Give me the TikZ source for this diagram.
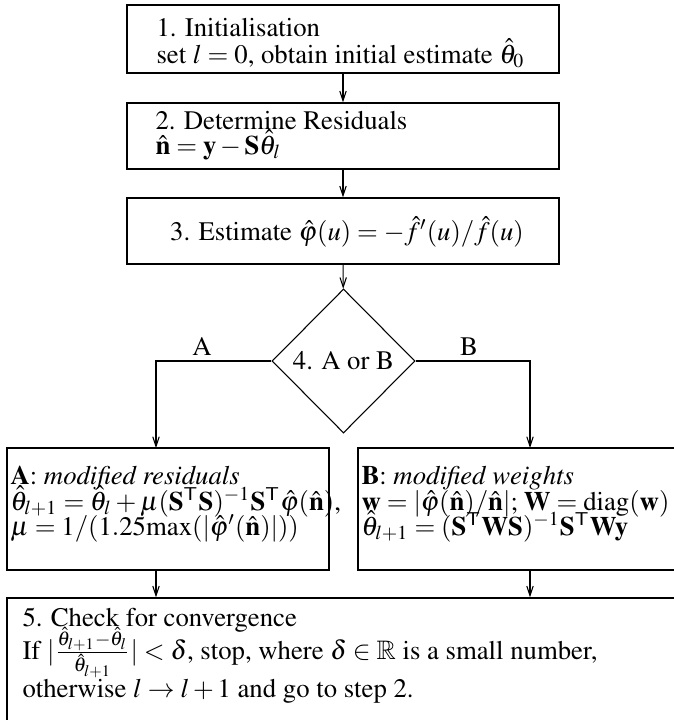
\documentclass[tikz,border=0pt]{standalone}
\usepackage[T1]{fontenc}
\usepackage{mathptmx}
\usepackage{amssymb}
\usetikzlibrary{shapes.geometric,arrows.meta}
\begin{document}
\begin{tikzpicture}[x=0.374pt,y=-0.374pt,
  every node/.style={font=\fontsize{10}{11}\selectfont},
  box/.style={draw, line width=0.5pt, rectangle, inner sep=0pt},
  ln/.style={anchor=base west, inner sep=0pt},
  lbl/.style={anchor=base, inner sep=0pt},
  arr/.style={line width=0.4pt, -{Straight Barb[length=3.6pt,width=2.4pt]}}]
\clip (0,0) rectangle (674,720);
% boxes
\node[box, minimum width=161.57pt, minimum height=25.43pt] (b1) at (343,39) {};
\node[box, minimum width=161.57pt, minimum height=24.68pt] (b2) at (343,136) {};
\node[box, minimum width=161.57pt, minimum height=24.68pt] (b3) at (343,231) {};
\node[draw, line width=0.4pt, diamond, minimum width=53.48pt, minimum height=53.86pt, inner sep=0pt] (d) at (343.5,361) {4. A or B};
\node[box, minimum width=120.43pt, minimum height=45.63pt] (bA) at (168,509) {};
\node[box, minimum width=124.17pt, minimum height=45.63pt] (bB) at (524,509) {};
\node[box, minimum width=255.44pt, minimum height=52.36pt] (b5) at (348.5,668) {};
% texts
\node[ln] (t1a) at (156,36.7) {1. Initialisation};
\node[ln] (t1b) at (156,63) {set $l=0$, obtain initial estimate $\hat{\theta}_0$};
\node[ln] (t2a) at (155,129) {2. Determine Residuals};
\node[ln] (t2b) at (155,154) {$\hat{\mathbf{n}}=\mathbf{y}-\mathbf{S}\hat{\theta}_l$};
\node[lbl] (t3) at (347,240) {3. Estimate $\hat{\varphi}(u)=-\hat{f}'(u)/\hat{f}(u)$};
\node[ln] (tAa) at (10,484) {\textbf{A}: \emph{modified residuals}};
\node[ln] (tAb) at (10,510) {$\hat{\theta}_{l+1}=\hat{\theta}_l+\mu(\mathbf{S}^{\mathsf{T}}\mathbf{S})^{-1}\mathbf{S}^{\mathsf{T}}\hat{\varphi}(\hat{\mathbf{n}})$,};
\node[ln] (tAc) at (10,535) {$\mu=1/(1.25\mathrm{max}(|\hat{\varphi}'(\hat{\mathbf{n}})|))$};
\node[ln] (tBa) at (361,484) {\textbf{B}: \emph{modified weights}};
\node[ln] (tBb) at (361,510) {$\mathbf{w}=|\hat{\varphi}(\hat{\mathbf{n}})/\hat{\mathbf{n}}|;\,\mathbf{W}=\mathrm{diag}(\mathbf{w})$};
\node[ln] (tBc) at (361,535) {$\hat{\theta}_{l+1}=(\mathbf{S}^{\mathsf{T}}\mathbf{W}\mathbf{S})^{-1}\mathbf{S}^{\mathsf{T}}\mathbf{W}\mathbf{y}$};
\node[ln] (t5a) at (22,626) {5. Check for convergence};
\node[ln] (t5b) at (22,659) {If $|\frac{\hat{\theta}_{l+1}-\hat{\theta}_l}{\hat{\theta}_{l+1}}|<\delta$, stop, where $\delta\in\mathbb{R}$ is a small number,};
\node[ln] (t5c) at (22,697) {otherwise $l\rightarrow l+1$ and go to step 2.};
% branch labels
\node[lbl] (la) at (202,355) {A};
\node[lbl] (lb) at (469,355) {B};
% connectors
\coordinate (ain) at (156,448);
\coordinate (bin) at (530,448);
\draw[arr] (b1) -- (b2);
\draw[arr] (b2) -- (b3);
\draw[arr] (b3) -- (d);
\draw[arr] (d.west) -| (ain);
\draw[arr] (d.east) -| (bin);
\draw[arr] (bA.south -| ain) -- (b5.north -| ain);
\draw[arr] (bB.south -| bin) -- (b5.north -| bin);
\end{tikzpicture}
\end{document}
